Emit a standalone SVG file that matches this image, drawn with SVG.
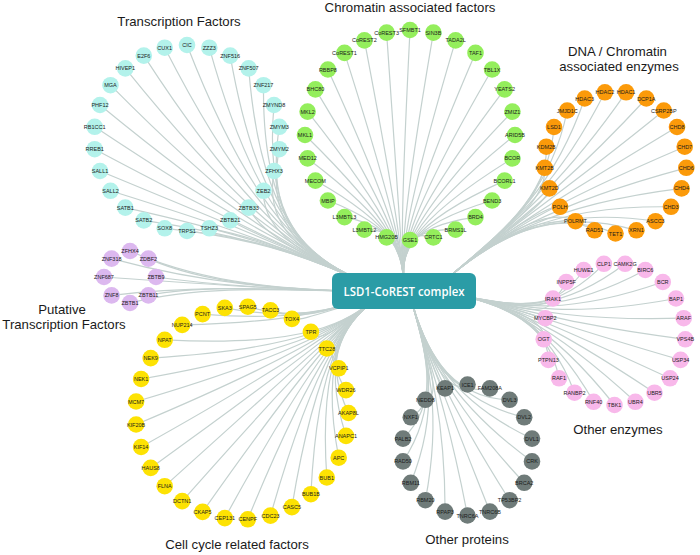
<svg xmlns="http://www.w3.org/2000/svg" width="700" height="555" viewBox="0 0 700 555">
<style>
.e path{fill:none;stroke:#c4d1cf;stroke-width:1.2}
.n text{font-family:"Liberation Sans",Arial,sans-serif;font-size:5.5px;text-anchor:middle;fill:#1b1b1b}
.tf circle{fill:#b3f2eb}
.ch circle{fill:#94ee5c}
.en circle{fill:#fb9a0a}
.pt circle{fill:#dcb8ef}
.cc circle{fill:#fde203}
.op circle{fill:#6f7b79}
.oe circle{fill:#f8b8ea}
.t{font-family:"Liberation Sans",Arial,sans-serif;font-size:13.2px;fill:#1a1a1a;text-anchor:middle}
</style>
<rect width="700" height="555" fill="#ffffff"/>
<g id="connectors" class="e">
<g id="e-tf">
<path d="M187 45C262 238 320 262 370 285"/><path d="M164.7 47.7C262 238 320 262 370 285"/><path d="M143.8 55.6C262 238 320 262 370 285"/><path d="M125.3 68.4C262 238 320 262 370 285"/><path d="M110.5 85.2C262 238 320 262 370 285"/><path d="M100 105C262 238 320 262 370 285"/><path d="M94.7 126.8C262 238 320 262 370 285"/><path d="M94.7 149.2C262 238 320 262 370 285"/><path d="M100 171C262 238 320 262 370 285"/><path d="M110.5 190.8C262 238 320 262 370 285"/><path d="M125.3 207.6C262 238 320 262 370 285"/><path d="M143.8 220.4C262 238 320 262 370 285"/><path d="M164.7 228.3C262 238 320 262 370 285"/><path d="M187 231C262 238 320 262 370 285"/><path d="M209.3 228.3C262 238 320 262 370 285"/><path d="M230.2 220.4C262 238 320 262 370 285"/><path d="M248.7 207.6C262 238 320 262 370 285"/><path d="M263.5 190.8C262 238 320 262 370 285"/><path d="M274 171C262 238 320 262 370 285"/><path d="M279.3 149.2C262 238 320 262 370 285"/><path d="M279.3 126.8C262 238 320 262 370 285"/><path d="M274 105C262 238 320 262 370 285"/><path d="M263.5 85.2C262 238 320 262 370 285"/><path d="M248.7 68.4C262 238 320 262 370 285"/><path d="M230.2 55.6C262 238 320 262 370 285"/><path d="M209.3 47.7C262 238 320 262 370 285"/>
</g>
<g id="e-ch">
<path d="M410 30C400 228 402 256 404 285"/><path d="M386.6 32.6C400 228 402 256 404 285"/><path d="M364.4 40.4C400 228 402 256 404 285"/><path d="M344.5 52.9C400 228 402 256 404 285"/><path d="M327.9 69.5C400 228 402 256 404 285"/><path d="M315.4 89.4C400 228 402 256 404 285"/><path d="M307.6 111.6C400 228 402 256 404 285"/><path d="M305 135C400 228 402 256 404 285"/><path d="M307.6 158.4C400 228 402 256 404 285"/><path d="M315.4 180.6C400 228 402 256 404 285"/><path d="M327.9 200.5C400 228 402 256 404 285"/><path d="M344.5 217.1C400 228 402 256 404 285"/><path d="M364.4 229.6C400 228 402 256 404 285"/><path d="M386.6 237.4C400 228 402 256 404 285"/><path d="M410 240C400 228 402 256 404 285"/><path d="M433.4 237.4C400 228 402 256 404 285"/><path d="M455.6 229.6C400 228 402 256 404 285"/><path d="M475.5 217.1C400 228 402 256 404 285"/><path d="M492.1 200.5C400 228 402 256 404 285"/><path d="M504.6 180.6C400 228 402 256 404 285"/><path d="M512.4 158.4C400 228 402 256 404 285"/><path d="M515 135C400 228 402 256 404 285"/><path d="M512.4 111.6C400 228 402 256 404 285"/><path d="M504.6 89.4C400 228 402 256 404 285"/><path d="M492.1 69.5C400 228 402 256 404 285"/><path d="M475.5 52.9C400 228 402 256 404 285"/><path d="M455.6 40.4C400 228 402 256 404 285"/><path d="M433.4 32.6C400 228 402 256 404 285"/>
</g>
<g id="e-en">
<path d="M626.1 92.3C548 205 490 240 440 285"/><path d="M646.3 98.5C548 205 490 240 440 285"/><path d="M663.8 110.5C548 205 490 240 440 285"/><path d="M677 127C548 205 490 240 440 285"/><path d="M684.7 146.7C548 205 490 240 440 285"/><path d="M686.3 167.8C548 205 490 240 440 285"/><path d="M681.6 188.4C548 205 490 240 440 285"/><path d="M671 206.8C548 205 490 240 440 285"/><path d="M655.5 221.2C548 205 490 240 440 285"/><path d="M636.4 230.3C548 205 490 240 440 285"/><path d="M615.5 233.5C548 205 490 240 440 285"/><path d="M594.6 230.3C548 205 490 240 440 285"/><path d="M575.5 221.2C548 205 490 240 440 285"/><path d="M560 206.8C548 205 490 240 440 285"/><path d="M549.4 188.4C548 205 490 240 440 285"/><path d="M544.7 167.8C548 205 490 240 440 285"/><path d="M546.3 146.7C548 205 490 240 440 285"/><path d="M554 127C548 205 490 240 440 285"/><path d="M567.2 110.5C548 205 490 240 440 285"/><path d="M584.7 98.5C548 205 490 240 440 285"/><path d="M604.9 92.3C548 205 490 240 440 285"/>
</g>
<g id="e-oe">
<path d="M625.1 263.8C548 322 505 302 440 292"/><path d="M645.3 270C548 322 505 302 440 292"/><path d="M662.8 282C548 322 505 302 440 292"/><path d="M676 298.5C548 322 505 302 440 292"/><path d="M683.7 318.2C548 322 505 302 440 292"/><path d="M685.3 339.3C548 322 505 302 440 292"/><path d="M680.6 359.9C548 322 505 302 440 292"/><path d="M670 378.3C548 322 505 302 440 292"/><path d="M654.5 392.7C548 322 505 302 440 292"/><path d="M635.4 401.8C548 322 505 302 440 292"/><path d="M614.5 405C548 322 505 302 440 292"/><path d="M593.6 401.8C548 322 505 302 440 292"/><path d="M574.5 392.7C548 322 505 302 440 292"/><path d="M559 378.3C548 322 505 302 440 292"/><path d="M548.4 359.9C548 322 505 302 440 292"/><path d="M543.7 339.3C548 322 505 302 440 292"/><path d="M545.3 318.2C548 322 505 302 440 292"/><path d="M553 298.5C548 322 505 302 440 292"/><path d="M566.2 282C548 322 505 302 440 292"/><path d="M583.7 270C548 322 505 302 440 292"/><path d="M603.9 263.8C548 322 505 302 440 292"/>
</g>
<g id="e-op">
<path d="M467.5 384.5C445 398 422 342 410 295"/><path d="M489.9 388.4C445 398 422 342 410 295"/><path d="M509.6 399.8C445 398 422 342 410 295"/><path d="M524.2 417.3C445 398 422 342 410 295"/><path d="M532 438.6C445 398 422 342 410 295"/><path d="M532 461.4C445 398 422 342 410 295"/><path d="M524.2 482.8C445 398 422 342 410 295"/><path d="M509.6 500.2C445 398 422 342 410 295"/><path d="M489.9 511.6C445 398 422 342 410 295"/><path d="M467.5 515.5C445 398 422 342 410 295"/><path d="M445.1 511.6C445 398 422 342 410 295"/><path d="M425.4 500.2C445 398 422 342 410 295"/><path d="M410.8 482.8C445 398 422 342 410 295"/><path d="M403 461.4C445 398 422 342 410 295"/><path d="M403 438.6C445 398 422 342 410 295"/><path d="M410.8 417.3C445 398 422 342 410 295"/><path d="M425.4 399.8C445 398 422 342 410 295"/><path d="M445.1 388.4C445 398 422 342 410 295"/>
</g>
<g id="e-cc">
<path d="M348.5 413C318 348 350 318 380 296"/><path d="M346 435.9C318 348 350 318 380 296"/><path d="M338.7 457.7C318 348 350 318 380 296"/><path d="M326.8 477.5C318 348 350 318 380 296"/><path d="M310.9 494.2C318 348 350 318 380 296"/><path d="M291.9 507.1C318 348 350 318 380 296"/><path d="M270.5 515.6C318 348 350 318 380 296"/><path d="M247.8 519.3C318 348 350 318 380 296"/><path d="M224.8 518.1C318 348 350 318 380 296"/><path d="M202.6 511.9C318 348 350 318 380 296"/><path d="M182.2 501.1C318 348 350 318 380 296"/><path d="M164.7 486.2C318 348 350 318 380 296"/><path d="M150.7 467.9C318 348 350 318 380 296"/><path d="M141.1 447C318 348 350 318 380 296"/><path d="M136.1 424.5C318 348 350 318 380 296"/><path d="M136.1 401.5C318 348 350 318 380 296"/><path d="M141.1 379C318 348 350 318 380 296"/><path d="M150.7 358.1C318 348 350 318 380 296"/><path d="M164.7 339.8C318 348 350 318 380 296"/><path d="M182.2 324.9C300 322 335 308 380 296"/><path d="M202.6 314.1C300 322 335 308 380 296"/><path d="M224.8 307.9C300 322 335 308 380 296"/><path d="M247.8 306.7C300 322 335 308 380 296"/><path d="M270.5 310.4C300 322 335 308 380 296"/><path d="M291.9 318.9C300 322 335 308 380 296"/><path d="M310.9 331.8C318 348 350 318 380 296"/><path d="M326.8 348.5C318 348 350 318 380 296"/><path d="M338.7 368.3C318 348 350 318 380 296"/><path d="M346 390.1C318 348 350 318 380 296"/>
</g>
<g id="e-pt">
<path d="M130 251C205 284 285 290 380 292"/><path d="M148.4 258.6C205 284 285 290 380 292"/><path d="M156 277C205 284 285 290 380 292"/><path d="M148.4 295.4C205 284 285 290 380 292"/><path d="M130 303C205 284 285 290 380 292"/><path d="M111.6 295.4C205 284 285 290 380 292"/><path d="M104 277C205 284 285 290 380 292"/><path d="M111.6 258.6C205 284 285 290 380 292"/>
</g>
</g>

<g id="tf-nodes">
<g id="n-CIC" class="n tf"><circle cx="187" cy="45" r="8.3"/><text x="187" y="47">CIC</text></g>
<g id="n-CUX1" class="n tf"><circle cx="164.7" cy="47.7" r="8.3"/><text x="164.7" y="49.7">CUX1</text></g>
<g id="n-E2F6" class="n tf"><circle cx="143.8" cy="55.6" r="8.3"/><text x="143.8" y="57.6">E2F6</text></g>
<g id="n-HIVEP1" class="n tf"><circle cx="125.3" cy="68.4" r="8.3"/><text x="125.3" y="70.4">HIVEP1</text></g>
<g id="n-MGA" class="n tf"><circle cx="110.5" cy="85.2" r="8.3"/><text x="110.5" y="87.2">MGA</text></g>
<g id="n-PHF12" class="n tf"><circle cx="100" cy="105" r="8.3"/><text x="100" y="107">PHF12</text></g>
<g id="n-RB1CC1" class="n tf"><circle cx="94.7" cy="126.8" r="8.3"/><text x="94.7" y="128.8">RB1CC1</text></g>
<g id="n-RREB1" class="n tf"><circle cx="94.7" cy="149.2" r="8.3"/><text x="94.7" y="151.2">RREB1</text></g>
<g id="n-SALL1" class="n tf"><circle cx="100" cy="171" r="8.3"/><text x="100" y="173">SALL1</text></g>
<g id="n-SALL2" class="n tf"><circle cx="110.5" cy="190.8" r="8.3"/><text x="110.5" y="192.8">SALL2</text></g>
<g id="n-SATB1" class="n tf"><circle cx="125.3" cy="207.6" r="8.3"/><text x="125.3" y="209.6">SATB1</text></g>
<g id="n-SATB2" class="n tf"><circle cx="143.8" cy="220.4" r="8.3"/><text x="143.8" y="222.4">SATB2</text></g>
<g id="n-SOX8" class="n tf"><circle cx="164.7" cy="228.3" r="8.3"/><text x="164.7" y="230.3">SOX8</text></g>
<g id="n-TRPS1" class="n tf"><circle cx="187" cy="231" r="8.3"/><text x="187" y="233">TRPS1</text></g>
<g id="n-TSHZ3" class="n tf"><circle cx="209.3" cy="228.3" r="8.3"/><text x="209.3" y="230.3">TSHZ3</text></g>
<g id="n-ZBTB21" class="n tf"><circle cx="230.2" cy="220.4" r="8.3"/><text x="230.2" y="222.4">ZBTB21</text></g>
<g id="n-ZBTB33" class="n tf"><circle cx="248.7" cy="207.6" r="8.3"/><text x="248.7" y="209.6">ZBTB33</text></g>
<g id="n-ZEB2" class="n tf"><circle cx="263.5" cy="190.8" r="8.3"/><text x="263.5" y="192.8">ZEB2</text></g>
<g id="n-ZFHX3" class="n tf"><circle cx="274" cy="171" r="8.3"/><text x="274" y="173">ZFHX3</text></g>
<g id="n-ZMYM2" class="n tf"><circle cx="279.3" cy="149.2" r="8.3"/><text x="279.3" y="151.2">ZMYM2</text></g>
<g id="n-ZMYM3" class="n tf"><circle cx="279.3" cy="126.8" r="8.3"/><text x="279.3" y="128.8">ZMYM3</text></g>
<g id="n-ZMYND8" class="n tf"><circle cx="274" cy="105" r="8.3"/><text x="274" y="107">ZMYND8</text></g>
<g id="n-ZNF217" class="n tf"><circle cx="263.5" cy="85.2" r="8.3"/><text x="263.5" y="87.2">ZNF217</text></g>
<g id="n-ZNF507" class="n tf"><circle cx="248.7" cy="68.4" r="8.3"/><text x="248.7" y="70.4">ZNF507</text></g>
<g id="n-ZNF516" class="n tf"><circle cx="230.2" cy="55.6" r="8.3"/><text x="230.2" y="57.6">ZNF516</text></g>
<g id="n-ZZZ3" class="n tf"><circle cx="209.3" cy="47.7" r="8.3"/><text x="209.3" y="49.7">ZZZ3</text></g>
</g>

<g id="ch-nodes">
<g id="n-SFMBT1" class="n ch"><circle cx="410" cy="30" r="8.3"/><text x="410" y="32">SFMBT1</text></g>
<g id="n-CoREST3" class="n ch"><circle cx="386.6" cy="32.6" r="8.3"/><text x="386.6" y="34.6">CoREST3</text></g>
<g id="n-CoREST2" class="n ch"><circle cx="364.4" cy="40.4" r="8.3"/><text x="364.4" y="42.4">CoREST2</text></g>
<g id="n-CoREST1" class="n ch"><circle cx="344.5" cy="52.9" r="8.3"/><text x="344.5" y="54.9">CoREST1</text></g>
<g id="n-RBBP8" class="n ch"><circle cx="327.9" cy="69.5" r="8.3"/><text x="327.9" y="71.5">RBBP8</text></g>
<g id="n-BHC80" class="n ch"><circle cx="315.4" cy="89.4" r="8.3"/><text x="315.4" y="91.4">BHC80</text></g>
<g id="n-MKL2" class="n ch"><circle cx="307.6" cy="111.6" r="8.3"/><text x="307.6" y="113.6">MKL2</text></g>
<g id="n-MKL1" class="n ch"><circle cx="305" cy="135" r="8.3"/><text x="305" y="137">MKL1</text></g>
<g id="n-MED12" class="n ch"><circle cx="307.6" cy="158.4" r="8.3"/><text x="307.6" y="160.4">MED12</text></g>
<g id="n-MECOM" class="n ch"><circle cx="315.4" cy="180.6" r="8.3"/><text x="315.4" y="182.6">MECOM</text></g>
<g id="n-MBIP" class="n ch"><circle cx="327.9" cy="200.5" r="8.3"/><text x="327.9" y="202.5">MBIP</text></g>
<g id="n-L3MBTL3" class="n ch"><circle cx="344.5" cy="217.1" r="8.3"/><text x="344.5" y="219.1">L3MBTL3</text></g>
<g id="n-L3MBTL2" class="n ch"><circle cx="364.4" cy="229.6" r="8.3"/><text x="364.4" y="231.6">L3MBTL2</text></g>
<g id="n-HMG20B" class="n ch"><circle cx="386.6" cy="237.4" r="8.3"/><text x="386.6" y="239.4">HMG20B</text></g>
<g id="n-GSE1" class="n ch"><circle cx="410" cy="240" r="8.3"/><text x="410" y="242">GSE1</text></g>
<g id="n-CRTC1" class="n ch"><circle cx="433.4" cy="237.4" r="8.3"/><text x="433.4" y="239.4">CRTC1</text></g>
<g id="n-BRMS1L" class="n ch"><circle cx="455.6" cy="229.6" r="8.3"/><text x="455.6" y="231.6">BRMS1L</text></g>
<g id="n-BRD4" class="n ch"><circle cx="475.5" cy="217.1" r="8.3"/><text x="475.5" y="219.1">BRD4</text></g>
<g id="n-BEND3" class="n ch"><circle cx="492.1" cy="200.5" r="8.3"/><text x="492.1" y="202.5">BEND3</text></g>
<g id="n-BCORL1" class="n ch"><circle cx="504.6" cy="180.6" r="8.3"/><text x="504.6" y="182.6">BCORL1</text></g>
<g id="n-BCOR" class="n ch"><circle cx="512.4" cy="158.4" r="8.3"/><text x="512.4" y="160.4">BCOR</text></g>
<g id="n-ARID5B" class="n ch"><circle cx="515" cy="135" r="8.3"/><text x="515" y="137">ARID5B</text></g>
<g id="n-ZMIZ1" class="n ch"><circle cx="512.4" cy="111.6" r="8.3"/><text x="512.4" y="113.6">ZMIZ1</text></g>
<g id="n-YEATS2" class="n ch"><circle cx="504.6" cy="89.4" r="8.3"/><text x="504.6" y="91.4">YEATS2</text></g>
<g id="n-TBL1X" class="n ch"><circle cx="492.1" cy="69.5" r="8.3"/><text x="492.1" y="71.5">TBL1X</text></g>
<g id="n-TAF1" class="n ch"><circle cx="475.5" cy="52.9" r="8.3"/><text x="475.5" y="54.9">TAF1</text></g>
<g id="n-TADA2L" class="n ch"><circle cx="455.6" cy="40.4" r="8.3"/><text x="455.6" y="42.4">TADA2L</text></g>
<g id="n-SIN3B" class="n ch"><circle cx="433.4" cy="32.6" r="8.3"/><text x="433.4" y="34.6">SIN3B</text></g>
</g>

<g id="en-nodes">
<g id="n-HDAC1" class="n en"><circle cx="626.1" cy="92.3" r="8.3"/><text x="626.1" y="94.3">HDAC1</text></g>
<g id="n-DCP1A" class="n en"><circle cx="646.3" cy="98.5" r="8.3"/><text x="646.3" y="100.5">DCP1A</text></g>
<g id="n-CSRP2BP" class="n en"><circle cx="663.8" cy="110.5" r="8.3"/><text x="663.8" y="112.5">CSRP2BP</text></g>
<g id="n-CHD8" class="n en"><circle cx="677" cy="127" r="8.3"/><text x="677" y="129">CHD8</text></g>
<g id="n-CHD7" class="n en"><circle cx="684.7" cy="146.7" r="8.3"/><text x="684.7" y="148.7">CHD7</text></g>
<g id="n-CHD6" class="n en"><circle cx="686.3" cy="167.8" r="8.3"/><text x="686.3" y="169.8">CHD6</text></g>
<g id="n-CHD4" class="n en"><circle cx="681.6" cy="188.4" r="8.3"/><text x="681.6" y="190.4">CHD4</text></g>
<g id="n-CHD3" class="n en"><circle cx="671" cy="206.8" r="8.3"/><text x="671" y="208.8">CHD3</text></g>
<g id="n-ASCC3" class="n en"><circle cx="655.5" cy="221.2" r="8.3"/><text x="655.5" y="223.2">ASCC3</text></g>
<g id="n-XRN1" class="n en"><circle cx="636.4" cy="230.3" r="8.3"/><text x="636.4" y="232.3">XRN1</text></g>
<g id="n-TET1" class="n en"><circle cx="615.5" cy="233.5" r="8.3"/><text x="615.5" y="235.5">TET1</text></g>
<g id="n-RAD51" class="n en"><circle cx="594.6" cy="230.3" r="8.3"/><text x="594.6" y="232.3">RAD51</text></g>
<g id="n-POLRMT" class="n en"><circle cx="575.5" cy="221.2" r="8.3"/><text x="575.5" y="223.2">POLRMT</text></g>
<g id="n-POLH" class="n en"><circle cx="560" cy="206.8" r="8.3"/><text x="560" y="208.8">POLH</text></g>
<g id="n-KMT2D" class="n en"><circle cx="549.4" cy="188.4" r="8.3"/><text x="549.4" y="190.4">KMT2D</text></g>
<g id="n-KMT2B" class="n en"><circle cx="544.7" cy="167.8" r="8.3"/><text x="544.7" y="169.8">KMT2B</text></g>
<g id="n-KDM2B" class="n en"><circle cx="546.3" cy="146.7" r="8.3"/><text x="546.3" y="148.7">KDM2B</text></g>
<g id="n-LSD1" class="n en"><circle cx="554" cy="127" r="8.3"/><text x="554" y="129">LSD1</text></g>
<g id="n-JMJD1C" class="n en"><circle cx="567.2" cy="110.5" r="8.3"/><text x="567.2" y="112.5">JMJD1C</text></g>
<g id="n-HDAC3" class="n en"><circle cx="584.7" cy="98.5" r="8.3"/><text x="584.7" y="100.5">HDAC3</text></g>
<g id="n-HDAC2" class="n en"><circle cx="604.9" cy="92.3" r="8.3"/><text x="604.9" y="94.3">HDAC2</text></g>
</g>

<g id="pt-nodes">
<g id="n-ZFHX4" class="n pt"><circle cx="130" cy="251" r="8.3"/><text x="130" y="253">ZFHX4</text></g>
<g id="n-ZDBF2" class="n pt"><circle cx="148.4" cy="258.6" r="8.3"/><text x="148.4" y="260.6">ZDBF2</text></g>
<g id="n-ZBTB9" class="n pt"><circle cx="156" cy="277" r="8.3"/><text x="156" y="279">ZBTB9</text></g>
<g id="n-ZBTB11" class="n pt"><circle cx="148.4" cy="295.4" r="8.3"/><text x="148.4" y="297.4">ZBTB11</text></g>
<g id="n-ZBTB1" class="n pt"><circle cx="130" cy="303" r="8.3"/><text x="130" y="305">ZBTB1</text></g>
<g id="n-ZNF8" class="n pt"><circle cx="111.6" cy="295.4" r="8.3"/><text x="111.6" y="297.4">ZNF8</text></g>
<g id="n-ZNF687" class="n pt"><circle cx="104" cy="277" r="8.3"/><text x="104" y="279">ZNF687</text></g>
<g id="n-ZNF318" class="n pt"><circle cx="111.6" cy="258.6" r="8.3"/><text x="111.6" y="260.6">ZNF318</text></g>
</g>

<g id="cc-nodes">
<g id="n-AKAP8L" class="n cc"><circle cx="348.5" cy="413" r="8.3"/><text x="348.5" y="415">AKAP8L</text></g>
<g id="n-ANAPC1" class="n cc"><circle cx="346" cy="435.9" r="8.3"/><text x="346" y="437.9">ANAPC1</text></g>
<g id="n-APC" class="n cc"><circle cx="338.7" cy="457.7" r="8.3"/><text x="338.7" y="459.7">APC</text></g>
<g id="n-BUB1" class="n cc"><circle cx="326.8" cy="477.5" r="8.3"/><text x="326.8" y="479.5">BUB1</text></g>
<g id="n-BUB1B" class="n cc"><circle cx="310.9" cy="494.2" r="8.3"/><text x="310.9" y="496.2">BUB1B</text></g>
<g id="n-CASC5" class="n cc"><circle cx="291.9" cy="507.1" r="8.3"/><text x="291.9" y="509.1">CASC5</text></g>
<g id="n-CDC23" class="n cc"><circle cx="270.5" cy="515.6" r="8.3"/><text x="270.5" y="517.6">CDC23</text></g>
<g id="n-CENPF" class="n cc"><circle cx="247.8" cy="519.3" r="8.3"/><text x="247.8" y="521.3">CENPF</text></g>
<g id="n-CEP131" class="n cc"><circle cx="224.8" cy="518.1" r="8.3"/><text x="224.8" y="520.1">CEP131</text></g>
<g id="n-CKAP5" class="n cc"><circle cx="202.6" cy="511.9" r="8.3"/><text x="202.6" y="513.9">CKAP5</text></g>
<g id="n-DCTN1" class="n cc"><circle cx="182.2" cy="501.1" r="8.3"/><text x="182.2" y="503.1">DCTN1</text></g>
<g id="n-FLNA" class="n cc"><circle cx="164.7" cy="486.2" r="8.3"/><text x="164.7" y="488.2">FLNA</text></g>
<g id="n-HAUS8" class="n cc"><circle cx="150.7" cy="467.9" r="8.3"/><text x="150.7" y="469.9">HAUS8</text></g>
<g id="n-KIF14" class="n cc"><circle cx="141.1" cy="447" r="8.3"/><text x="141.1" y="449">KIF14</text></g>
<g id="n-KIF20B" class="n cc"><circle cx="136.1" cy="424.5" r="8.3"/><text x="136.1" y="426.5">KIF20B</text></g>
<g id="n-MCM7" class="n cc"><circle cx="136.1" cy="401.5" r="8.3"/><text x="136.1" y="403.5">MCM7</text></g>
<g id="n-NEK1" class="n cc"><circle cx="141.1" cy="379" r="8.3"/><text x="141.1" y="381">NEK1</text></g>
<g id="n-NEK9" class="n cc"><circle cx="150.7" cy="358.1" r="8.3"/><text x="150.7" y="360.1">NEK9</text></g>
<g id="n-NPAT" class="n cc"><circle cx="164.7" cy="339.8" r="8.3"/><text x="164.7" y="341.8">NPAT</text></g>
<g id="n-NUP214" class="n cc"><circle cx="182.2" cy="324.9" r="8.3"/><text x="182.2" y="326.9">NUP214</text></g>
<g id="n-PCNT" class="n cc"><circle cx="202.6" cy="314.1" r="8.3"/><text x="202.6" y="316.1">PCNT</text></g>
<g id="n-SKA3" class="n cc"><circle cx="224.8" cy="307.9" r="8.3"/><text x="224.8" y="309.9">SKA3</text></g>
<g id="n-SPAG5" class="n cc"><circle cx="247.8" cy="306.7" r="8.3"/><text x="247.8" y="308.7">SPAG5</text></g>
<g id="n-TACC3" class="n cc"><circle cx="270.5" cy="310.4" r="8.3"/><text x="270.5" y="312.4">TACC3</text></g>
<g id="n-TOX4" class="n cc"><circle cx="291.9" cy="318.9" r="8.3"/><text x="291.9" y="320.9">TOX4</text></g>
<g id="n-TPR" class="n cc"><circle cx="310.9" cy="331.8" r="8.3"/><text x="310.9" y="333.8">TPR</text></g>
<g id="n-TTC28" class="n cc"><circle cx="326.8" cy="348.5" r="8.3"/><text x="326.8" y="350.5">TTC28</text></g>
<g id="n-VCPIP1" class="n cc"><circle cx="338.7" cy="368.3" r="8.3"/><text x="338.7" y="370.3">VCPIP1</text></g>
<g id="n-WDR26" class="n cc"><circle cx="346" cy="390.1" r="8.3"/><text x="346" y="392.1">WDR26</text></g>
</g>

<g id="op-nodes">
<g id="n-ICE1" class="n op"><circle cx="467.5" cy="384.5" r="8.3"/><text x="467.5" y="386.5">ICE1</text></g>
<g id="n-FAM208A" class="n op"><circle cx="489.9" cy="388.4" r="8.3"/><text x="489.9" y="390.4">FAM208A</text></g>
<g id="n-DVL3" class="n op"><circle cx="509.6" cy="399.8" r="8.3"/><text x="509.6" y="401.8">DVL3</text></g>
<g id="n-DVL2" class="n op"><circle cx="524.2" cy="417.3" r="8.3"/><text x="524.2" y="419.3">DVL2</text></g>
<g id="n-DVL1" class="n op"><circle cx="532" cy="438.6" r="8.3"/><text x="532" y="440.6">DVL1</text></g>
<g id="n-CRK" class="n op"><circle cx="532" cy="461.4" r="8.3"/><text x="532" y="463.4">CRK</text></g>
<g id="n-BRCA2" class="n op"><circle cx="524.2" cy="482.8" r="8.3"/><text x="524.2" y="484.8">BRCA2</text></g>
<g id="n-TP53BP2" class="n op"><circle cx="509.6" cy="500.2" r="8.3"/><text x="509.6" y="502.2">TP53BP2</text></g>
<g id="n-TNRC6B" class="n op"><circle cx="489.9" cy="511.6" r="8.3"/><text x="489.9" y="513.6">TNRC6B</text></g>
<g id="n-TNRC6A" class="n op"><circle cx="467.5" cy="515.5" r="8.3"/><text x="467.5" y="517.5">TNRC6A</text></g>
<g id="n-RPAP3" class="n op"><circle cx="445.1" cy="511.6" r="8.3"/><text x="445.1" y="513.6">RPAP3</text></g>
<g id="n-RBM20" class="n op"><circle cx="425.4" cy="500.2" r="8.3"/><text x="425.4" y="502.2">RBM20</text></g>
<g id="n-RBM11" class="n op"><circle cx="410.8" cy="482.8" r="8.3"/><text x="410.8" y="484.8">RBM11</text></g>
<g id="n-RAD50" class="n op"><circle cx="403" cy="461.4" r="8.3"/><text x="403" y="463.4">RAD50</text></g>
<g id="n-PALB2" class="n op"><circle cx="403" cy="438.6" r="8.3"/><text x="403" y="440.6">PALB2</text></g>
<g id="n-NXF1" class="n op"><circle cx="410.8" cy="417.3" r="8.3"/><text x="410.8" y="419.3">NXF1</text></g>
<g id="n-NEDD8" class="n op"><circle cx="425.4" cy="399.8" r="8.3"/><text x="425.4" y="401.8">NEDD8</text></g>
<g id="n-KEAP1" class="n op"><circle cx="445.1" cy="388.4" r="8.3"/><text x="445.1" y="390.4">KEAP1</text></g>
</g>

<g id="oe-nodes">
<g id="n-CAMK2G" class="n oe"><circle cx="625.1" cy="263.8" r="8.3"/><text x="625.1" y="265.8">CAMK2G</text></g>
<g id="n-BIRC6" class="n oe"><circle cx="645.3" cy="270" r="8.3"/><text x="645.3" y="272">BIRC6</text></g>
<g id="n-BCR" class="n oe"><circle cx="662.8" cy="282" r="8.3"/><text x="662.8" y="284">BCR</text></g>
<g id="n-BAP1" class="n oe"><circle cx="676" cy="298.5" r="8.3"/><text x="676" y="300.5">BAP1</text></g>
<g id="n-ARAF" class="n oe"><circle cx="683.7" cy="318.2" r="8.3"/><text x="683.7" y="320.2">ARAF</text></g>
<g id="n-VPS4B" class="n oe"><circle cx="685.3" cy="339.3" r="8.3"/><text x="685.3" y="341.3">VPS4B</text></g>
<g id="n-USP34" class="n oe"><circle cx="680.6" cy="359.9" r="8.3"/><text x="680.6" y="361.9">USP34</text></g>
<g id="n-USP24" class="n oe"><circle cx="670" cy="378.3" r="8.3"/><text x="670" y="380.3">USP24</text></g>
<g id="n-UBR5" class="n oe"><circle cx="654.5" cy="392.7" r="8.3"/><text x="654.5" y="394.7">UBR5</text></g>
<g id="n-UBR4" class="n oe"><circle cx="635.4" cy="401.8" r="8.3"/><text x="635.4" y="403.8">UBR4</text></g>
<g id="n-TBK1" class="n oe"><circle cx="614.5" cy="405" r="8.3"/><text x="614.5" y="407">TBK1</text></g>
<g id="n-RNF40" class="n oe"><circle cx="593.6" cy="401.8" r="8.3"/><text x="593.6" y="403.8">RNF40</text></g>
<g id="n-RANBP2" class="n oe"><circle cx="574.5" cy="392.7" r="8.3"/><text x="574.5" y="394.7">RANBP2</text></g>
<g id="n-RAF1" class="n oe"><circle cx="559" cy="378.3" r="8.3"/><text x="559" y="380.3">RAF1</text></g>
<g id="n-PTPN13" class="n oe"><circle cx="548.4" cy="359.9" r="8.3"/><text x="548.4" y="361.9">PTPN13</text></g>
<g id="n-OGT" class="n oe"><circle cx="543.7" cy="339.3" r="8.3"/><text x="543.7" y="341.3">OGT</text></g>
<g id="n-MYCBP2" class="n oe"><circle cx="545.3" cy="318.2" r="8.3"/><text x="545.3" y="320.2">MYCBP2</text></g>
<g id="n-IRAK1" class="n oe"><circle cx="553" cy="298.5" r="8.3"/><text x="553" y="300.5">IRAK1</text></g>
<g id="n-INPP5F" class="n oe"><circle cx="566.2" cy="282" r="8.3"/><text x="566.2" y="284">INPP5F</text></g>
<g id="n-HUWE1" class="n oe"><circle cx="583.7" cy="270" r="8.3"/><text x="583.7" y="272">HUWE1</text></g>
<g id="n-CLP1" class="n oe"><circle cx="603.9" cy="263.8" r="8.3"/><text x="603.9" y="265.8">CLP1</text></g>
</g>

<g id="lsd1-corest-complex">
<rect x="332" y="273" width="144" height="36" rx="6" fill="#2b9ca6"/>
<text x="404" y="296" font-family="'Open Sans','Liberation Sans',sans-serif" font-weight="600" font-size="13" fill="#ffffff" text-anchor="middle" textLength="121" lengthAdjust="spacingAndGlyphs">LSD1-CoREST complex</text>
</g>

<g id="titles">
<text class="t" x="179" y="26">Transcription Factors</text>
<text class="t" x="410" y="12">Chromatin associated factors</text>
<text class="t" x="617.5" y="56">DNA / Chromatin</text>
<text class="t" x="619" y="71">associated enzymes</text>
<text class="t" x="62" y="314">Putative</text>
<text class="t" x="64" y="329">Transcription Factors</text>
<text class="t" x="237" y="549">Cell cycle related factors</text>
<text class="t" x="467" y="544">Other proteins</text>
<text class="t" x="618" y="434">Other enzymes</text>
</g>
</svg>
